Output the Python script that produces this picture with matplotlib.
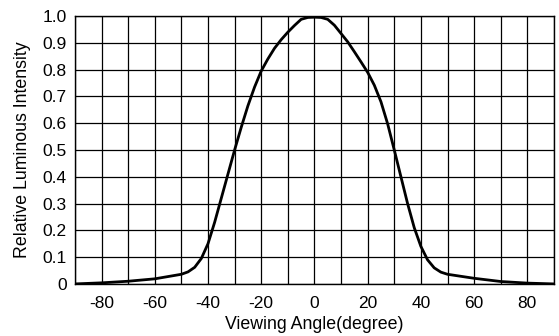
import matplotlib
matplotlib.use("Agg")
import matplotlib.pyplot as plt
import numpy as np

# curve (angle in degrees, relative intensity)
angles = [-90, -80, -70, -60, -50, -47.5, -45, -42.5, -40, -37.5, -35, -32.5, -30,
          -27.5, -25, -22.5, -20, -17.5, -15, -12.5, -10, -7.5, -5, -2.5,
          0, 2.5, 5, 7.5, 10, 12.5, 15, 17.5, 20, 22.5, 25, 27.5,
          30, 32.5, 35, 37.5, 40, 42.5, 45, 47.5, 50, 60, 70, 80, 90]
intensity = [0.0, 0.004, 0.01, 0.019, 0.036, 0.045, 0.062, 0.095, 0.15, 0.23, 0.32, 0.41, 0.50,
             0.585, 0.665, 0.735, 0.795, 0.84, 0.88, 0.912, 0.94, 0.965, 0.988, 0.995,
             0.996, 0.995, 0.988, 0.966, 0.935, 0.904, 0.867, 0.829, 0.79, 0.742, 0.68, 0.598,
             0.50, 0.40, 0.30, 0.21, 0.14, 0.09, 0.06, 0.044, 0.036, 0.021, 0.009, 0.003, 0.0]

x_ticks = [-80, -60, -40, -20, 0, 20, 40, 60, 80]
y_ticks = [0, 0.1, 0.2, 0.3, 0.4, 0.5, 0.6, 0.7, 0.8, 0.9, 1.0]
y_labels = ["0", "0.1", "0.2", "0.3", "0.4", "0.5", "0.6", "0.7", "0.8", "0.9", "1.0"]

plt.rcParams['font.family'] = ['Liberation Sans', 'DejaVu Sans']
plt.rcParams['axes.unicode_minus'] = False

fig = plt.figure(figsize=(5.59, 3.36), dpi=100)
ax = fig.add_axes([0.134, 0.155, 0.857, 0.797])

ax.plot(angles, intensity, color='black', linewidth=2.0,
        solid_joinstyle='round', solid_capstyle='round')

ax.set_xlim(-90, 90)
ax.set_ylim(0, 1.0)
ax.set_xticks(np.arange(-90, 91, 10), minor=True)
ax.set_xticks(x_ticks)
ax.set_yticks(y_ticks)
ax.set_yticklabels(y_labels)
ax.grid(True, which='both', color='black', linewidth=0.9)
ax.tick_params(which='both', length=0, labelsize=12.5)
ax.tick_params(axis='x', pad=9)
ax.tick_params(axis='y', pad=6)

for s in ax.spines.values():
    s.set_linewidth(1.0)
    s.set_color('black')

ax.set_xlabel('Viewing Angle(degree)', fontsize=12.8, labelpad=3)
ax.set_ylabel('Relative Luminous Intensity', fontsize=12.8, labelpad=8)

fig.savefig('out.png', dpi=100)
